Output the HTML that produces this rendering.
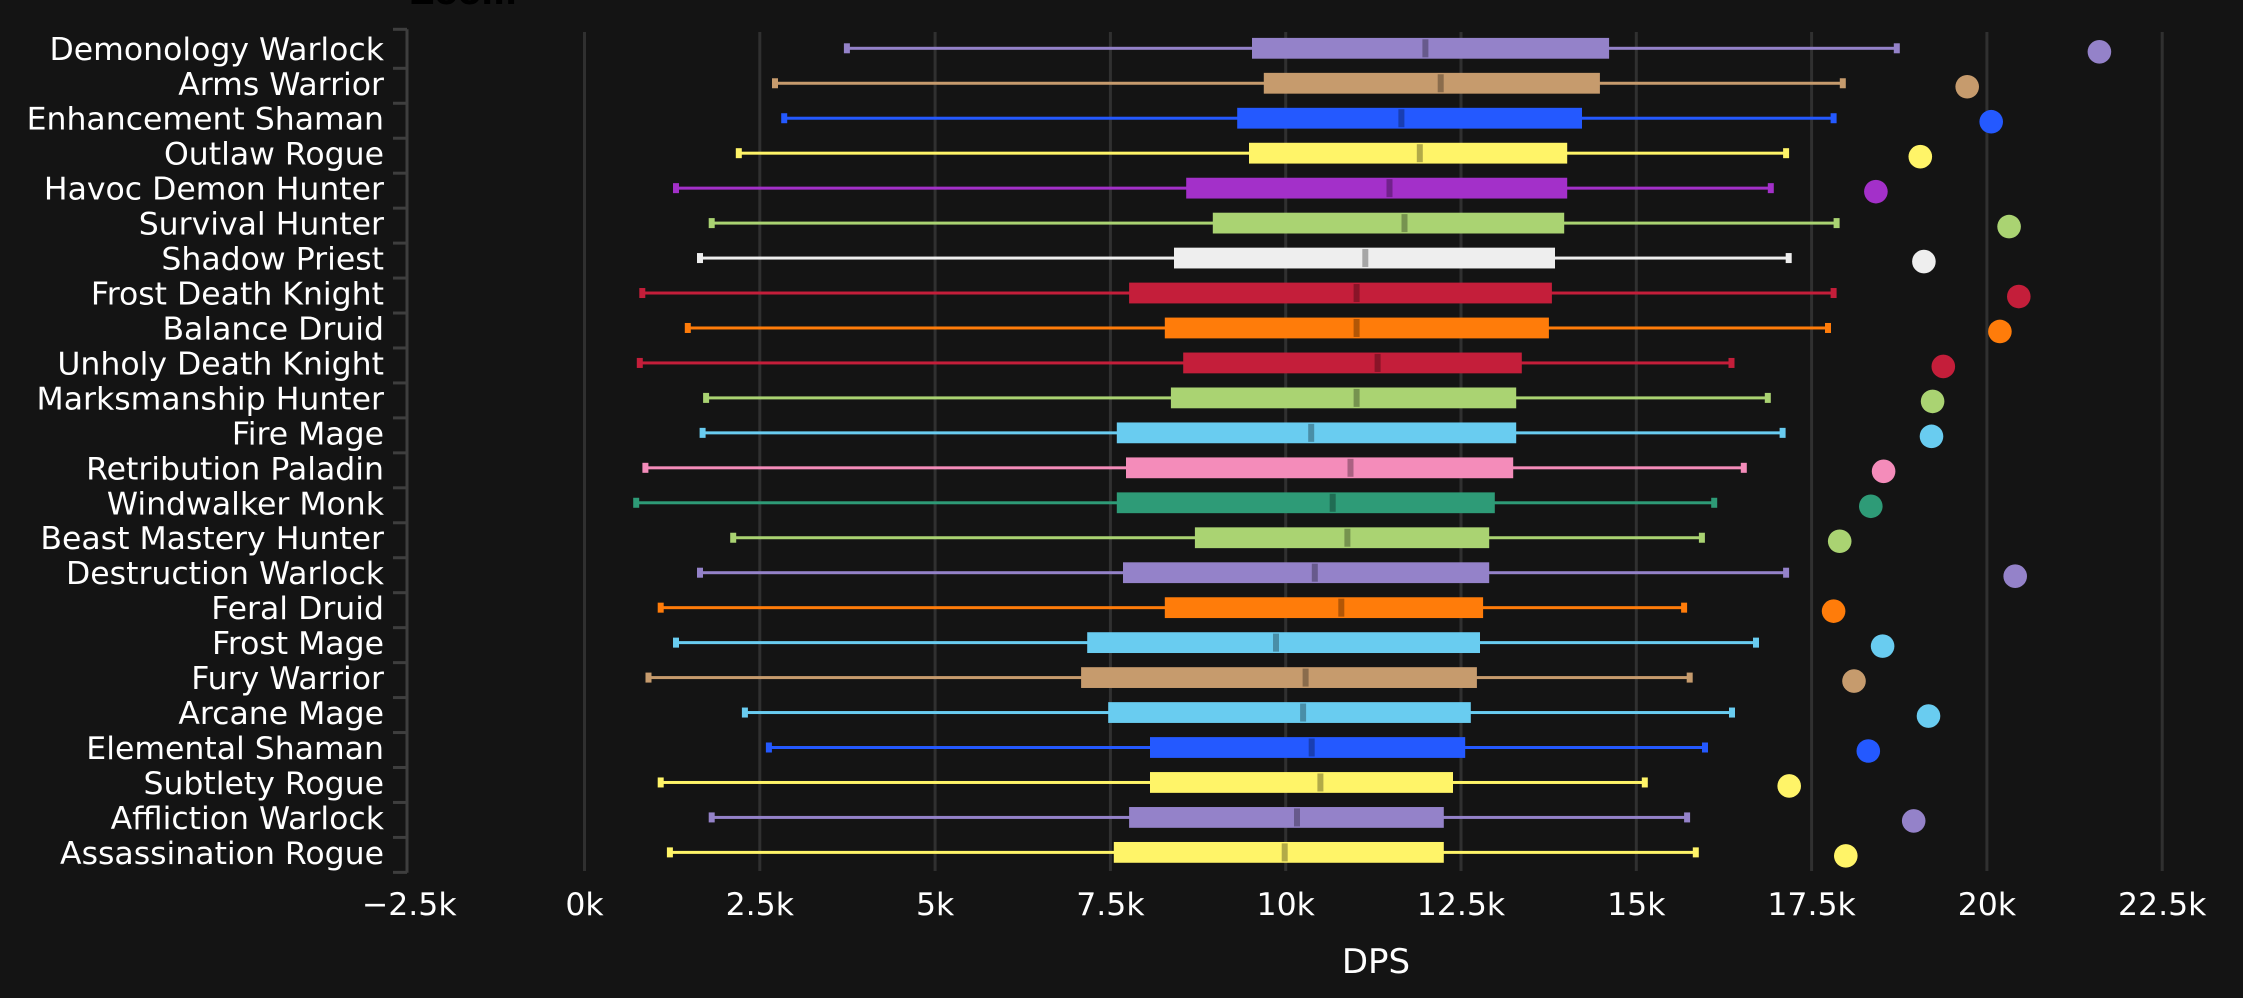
<!DOCTYPE html>
<html>
<head>
<meta charset="utf-8">
<style>
  html,body{margin:0;padding:0;background:#141414;}
  svg{display:block;}
  text{font-family:"DejaVu Sans","Liberation Sans",sans-serif;}
</style>
</head>
<body>
<svg width="2243" height="998" viewBox="0 0 2243 998" xmlns="http://www.w3.org/2000/svg">
<rect x="0" y="0" width="2243" height="998" fill="#141414"/>
<text x="410" y="4" font-size="34" font-weight="bold" fill="#000000">Zoom</text>
<g id="grid" stroke="#303030" stroke-width="3"></g>
<g id="axis"></g>
<g id="series"></g>
<g id="labels" fill="#ffffff" font-size="31.5"></g>
<text x="1376" y="973" font-size="34" fill="#ffffff" text-anchor="middle">DPS</text>
</svg>
<script>
(function(){
  var NS="http://www.w3.org/2000/svg";
  function el(tag, attrs, parent, txt){
    var e=document.createElementNS(NS,tag);
    for(var k in attrs) e.setAttribute(k, attrs[k]);
    if(txt!==undefined) e.textContent=txt;
    parent.appendChild(e); return e;
  }
  var grid=document.getElementById('grid');
  var axis=document.getElementById('axis');
  var series=document.getElementById('series');
  var labels=document.getElementById('labels');
  var x0=584.5, step=175.3;
  var tickTxt=["\u22122.5k","0k","2.5k","5k","7.5k","10k","12.5k","15k","17.5k","20k","22.5k"];
  for(var k=-1;k<=9;k++){
    var x=x0+step*k;
    if(k>=0) el('line',{x1:x,y1:32,x2:x,y2:871},grid);
    el('text',{x:(k==-1?409.2:x),y:915,'text-anchor':'middle'},labels,tickTxt[k+1]);
  }
  el('line',{x1:407,y1:29.3,x2:407,y2:872.7,stroke:'#3e3e3e','stroke-width':3},axis);
  el('line',{x1:393,y1:29.3,x2:407,y2:29.3,stroke:'#3e3e3e','stroke-width':3},axis);
  var rows=[
    ["Demonology Warlock","#9482C9",846.9,1252.0,1425.4,1609.1,1896.8,2099.4],
    ["Arms Warrior","#C69B6D",775.0,1263.8,1440.7,1599.9,1842.8,1967.2],
    ["Enhancement Shaman","#2459FF",784.2,1237.2,1401.4,1582.0,1833.6,1991.2],
    ["Outlaw Rogue","#FFF468",738.8,1249.0,1419.8,1567.2,1786.1,1920.3],
    ["Havoc Demon Hunter","#A330C9",676.0,1186.2,1389.5,1567.2,1770.8,1875.9],
    ["Survival Hunter","#AAD372",711.7,1212.8,1404.5,1564.2,1836.6,2009.1],
    ["Shadow Priest","#EEEEEE",700.0,1174.0,1365.3,1555.0,1788.7,1923.9],
    ["Frost Death Knight","#C41E3A",642.3,1129.1,1356.6,1551.9,1833.6,2018.8],
    ["Balance Druid","#FF7C0A",687.8,1164.8,1356.6,1548.9,1828.0,1999.9],
    ["Unholy Death Knight","#C41E3A",639.8,1183.2,1377.6,1521.8,1731.5,1943.3],
    ["Marksmanship Hunter","#AAD372",706.1,1170.9,1356.6,1516.2,1767.8,1932.6],
    ["Fire Mage","#69CCF0",702.6,1116.8,1311.2,1516.2,1782.6,1931.5],
    ["Retribution Paladin","#F48CBA",645.4,1126.0,1350.5,1513.2,1743.8,1883.6],
    ["Windwalker Monk","#2E9B77",636.2,1116.8,1332.7,1494.8,1714.2,1870.8],
    ["Beast Mastery Hunter","#AAD372",733.2,1194.9,1347.4,1489.2,1701.9,1839.7],
    ["Destruction Warlock","#9482C9",700.0,1123.0,1314.8,1489.2,1786.1,2015.2],
    ["Feral Druid","#FF7C0A",660.7,1164.8,1341.3,1483.1,1684.1,1833.6],
    ["Frost Mage","#69CCF0",676.0,1087.2,1276.0,1480.0,1756.0,1882.6],
    ["Fury Warrior","#C69B6D",648.5,1081.1,1305.6,1476.9,1689.7,1854.0],
    ["Arcane Mage","#69CCF0",744.9,1108.2,1303.1,1470.8,1732.0,1928.5],
    ["Elemental Shaman","#2459FF",768.9,1150.0,1311.7,1465.2,1705.0,1868.3],
    ["Subtlety Rogue","#FFF468",660.7,1150.0,1320.4,1453.0,1644.8,1789.2],
    ["Affliction Warlock","#9482C9",711.7,1129.1,1297.0,1443.8,1687.1,1913.7],
    ["Assassination Rogue","#FFF468",669.9,1113.8,1284.7,1443.8,1695.8,1845.8]
  ];
  for(var i=0;i<rows.length;i++){
    var r=rows[i], c=r[1];
    var cy=48.3+34.96*i;
    var ty=cy+20;
    el('line',{x1:393,y1:ty,x2:407,y2:ty,stroke:'#3e3e3e','stroke-width':3},axis);
    el('text',{x:384,y:(cy+11.5).toFixed(1),'text-anchor':'end'},labels,r[0]);
    el('rect',{x:r[2],y:cy-1.5,width:r[6]-r[2],height:3,fill:c},series);
    el('rect',{x:r[2]-3,y:cy-5,width:6,height:10,fill:c},series);
    el('rect',{x:r[6]-3,y:cy-5,width:6,height:10,fill:c},series);
    el('rect',{x:r[3],y:cy-10.4,width:r[5]-r[3],height:20.8,fill:c},series);
    el('rect',{x:r[4]-3,y:cy-9,width:6,height:18,fill:c},series);
    el('rect',{x:r[4]-3,y:cy-9,width:6,height:18,fill:'#000','fill-opacity':0.3},series);
    el('circle',{cx:r[7],cy:cy+3.5,r:11.8,fill:c},series);
  }
})();
</script>
</body>
</html>
